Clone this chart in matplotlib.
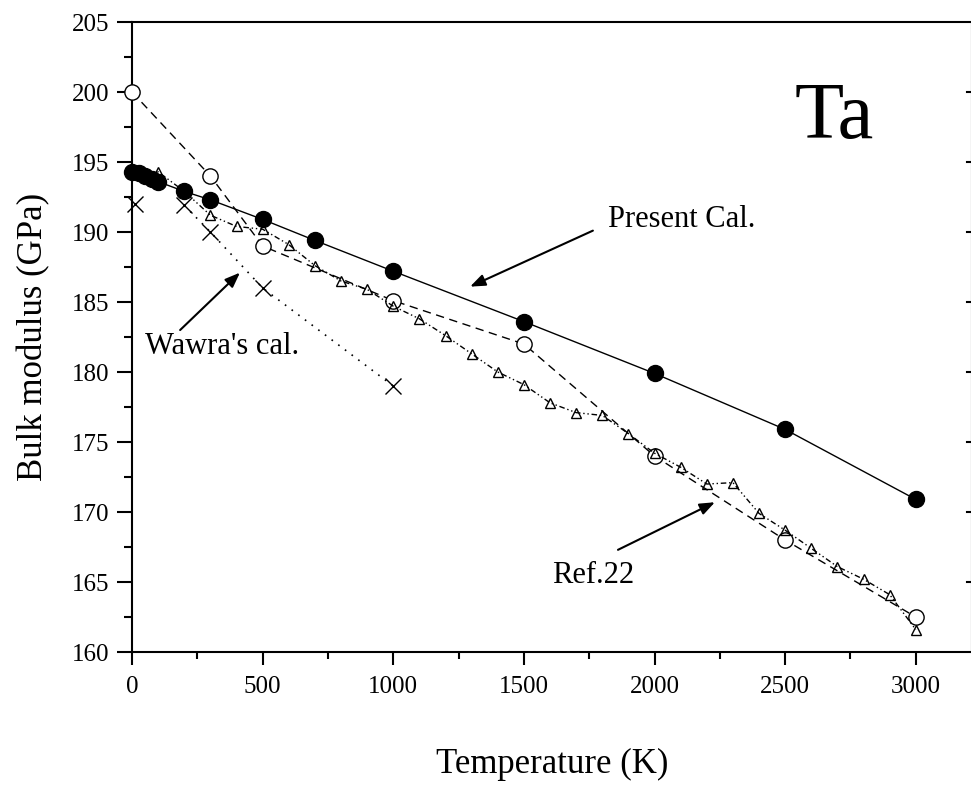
import matplotlib
matplotlib.use('Agg')
import matplotlib.pyplot as plt
from matplotlib.ticker import MultipleLocator

plt.rcParams['font.family'] = ['Liberation Serif', 'DejaVu Serif']

# present calculation (filled circles)
present_T = [0, 25, 50, 75, 100, 200, 300, 500, 700, 1000, 1500, 2000, 2500, 3000]
present_B = [194.3, 194.2, 194.0, 193.8, 193.6, 192.9, 192.3, 190.9, 189.4, 187.2, 183.6, 179.9, 175.9, 170.9]

# open circles
open_T = [0, 300, 500, 1000, 1500, 2000, 2500, 3000]
open_B = [200.0, 194.0, 189.0, 185.1, 182.0, 174.0, 168.0, 162.5]

# Wawra's cal. (crosses)
wawra_T = [10, 200, 300, 500, 1000]
wawra_B = [192.0, 191.9, 190.0, 186.0, 179.0]

# Ref.22 (triangles)
ref_T = [50, 100, 200, 300, 400, 500, 600, 700, 800, 900, 1000, 1100, 1200, 1300, 1400, 1500,
         1600, 1700, 1800, 1900, 2000, 2100, 2200, 2300, 2400, 2500, 2600, 2700, 2800, 2900, 3000]
ref_B = [194.1, 194.3, 192.9, 191.2, 190.4, 190.2, 189.1, 187.6, 186.5, 185.9, 184.7, 183.8, 182.6, 181.3, 180.0, 179.1,
         177.8, 177.1, 176.9, 175.6, 174.2, 173.2, 172.0, 172.1, 169.9, 168.7, 167.4, 166.1, 165.2, 164.1, 161.6]

fig = plt.figure(figsize=(9.71, 7.87), dpi=100)
ax = fig.add_axes([0.136, 0.1715, 0.865, 0.8005])

ax.plot(present_T, present_B, '-', color='black', lw=1.0, marker='o', ms=11.5,
        mfc='black', mec='black', clip_on=False, zorder=3)
ax.plot(open_T, open_B, color='black', lw=1.0, ls=(0, (6, 4)), marker='o', ms=11,
        mfc='white', mec='black', mew=1.0, clip_on=False, zorder=4)
# first cross is not joined to the rest
ax.plot(wawra_T[1:], wawra_B[1:], color='black', lw=1.2, ls=(0, (1, 4)), zorder=4)
ax.plot(wawra_T, wawra_B, ls='none', marker='x', ms=11, mec='black', mew=1.0,
        clip_on=False, zorder=4)
ax.plot(ref_T, ref_B, color='black', lw=1.0, ls=(0, (4, 2, 1, 2, 1, 2)), marker='^', ms=6.5,
        mfc='none', mec='black', mew=1.0, clip_on=False, zorder=5)

ax.set_xlim(0, 3215)
ax.set_ylim(160, 205)
ax.xaxis.set_major_locator(MultipleLocator(500))
ax.xaxis.set_minor_locator(MultipleLocator(250))
ax.yaxis.set_major_locator(MultipleLocator(5))
ax.yaxis.set_minor_locator(MultipleLocator(2.5))
ax.tick_params(axis='y', which='major', direction='out', length=10.5, width=1.5, labelsize=18, pad=6)
ax.tick_params(axis='y', which='minor', direction='out', length=6, width=1.5)
ax.tick_params(axis='x', which='major', direction='out', length=9, width=1.5, labelsize=18, pad=8)
ax.tick_params(axis='x', which='minor', direction='out', length=5, width=1.5)
ax.tick_params(axis='y', which='both', right=False)
ax.tick_params(axis='x', which='both', top=False)
for s in ax.spines.values():
    s.set_linewidth(1.5)

# short inner ticks on the right edge
for y in range(165, 205, 5):
    ax.plot([3195, 3215], [y, y], color='black', lw=1.5, clip_on=False)

ax.set_xlabel('Temperature (K)', fontsize=25, labelpad=36)
ax.set_ylabel('Bulk modulus (GPa)', fontsize=25, labelpad=15)

ax.text(2537, 196.7, 'Ta', fontsize=58, ha='left', va='baseline')

arrow = dict(arrowstyle='-|>,head_length=0.9,head_width=0.35', color='black', lw=1.5,
             shrinkA=0, shrinkB=0)
ax.annotate('', xy=(1294, 186.1), xytext=(1764, 190.1), arrowprops=arrow)
ax.text(1822, 190.9, 'Present Cal.', fontsize=22, ha='left', va='center')
ax.annotate('', xy=(413, 187.1), xytext=(184, 183.0), arrowprops=arrow)
ax.text(50, 181.8, "Wawra's cal.", fontsize=22, ha='left', va='center')
ax.annotate('', xy=(2231, 170.7), xytext=(1860, 167.3), arrowprops=arrow)
ax.text(1607, 165.5, 'Ref.22', fontsize=22, ha='left', va='center')

fig.savefig('out.png', dpi=100)
